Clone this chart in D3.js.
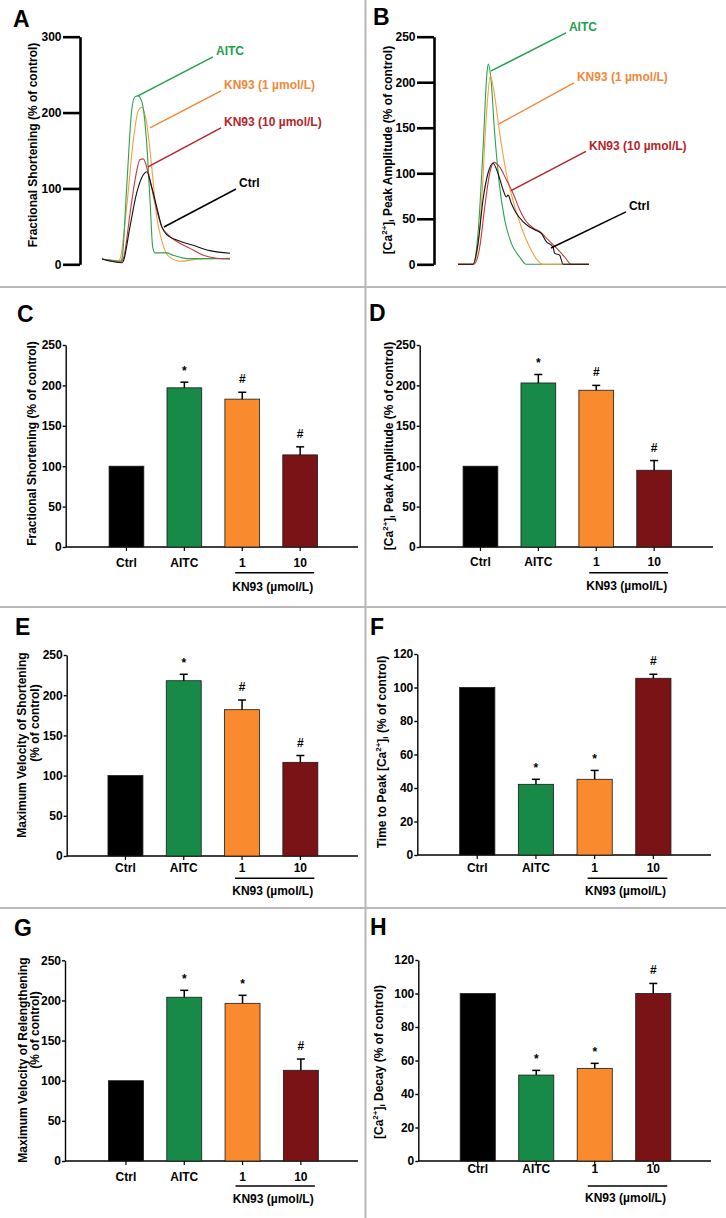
<!DOCTYPE html>
<html><head><meta charset="utf-8">
<script src="https://cdn.jsdelivr.net/npm/d3@7"></script>
<style>body{margin:0;background:#fff;}</style>
</head><body>
<script>
// ---------------- DATA ----------------
const categories = ["Ctrl", "AITC", "1", "10"];
const groupLabel = "KN93 (µmol/L)";
const seriesNames = ["Ctrl", "AITC", "KN93 (1 µmol/L)", "KN93 (10 µmol/L)"];

// Panel A: fractional shortening traces [time (a.u. 0-100), % of control]
const traceA_Ctrl = [[0,7],[15.6,2],[16.6,4],[21.9,50],[27.1,94],[32.3,118],[34.9,122],[38.8,102],[42.7,76],[46.6,50],[50.5,39],[58.4,32],[71.3,25],[84.4,18],[100,14.5]];
const traceA_AITC = [[0,7],[10.2,5],[14.1,4],[15.6,7],[19.3,102],[23.2,203],[25.8,221],[28.1,222],[31.0,215],[34.9,160],[37.5,85],[39.6,23],[41.4,15],[50.5,15],[55.5,12],[66.2,7.5],[100,7.5]];
const traceA_KN1 = [[0,7],[12.5,4],[14.1,7],[19.3,76],[24.5,164],[28.4,203],[31.0,207],[34.9,186],[38.8,129],[42.7,63],[46.6,32],[51.8,11],[60.9,4],[76.6,7],[100,8]];
const traceA_KN10 = [[0,7],[14.1,3],[16.6,7],[21.9,67],[25.8,111],[29.7,138],[32.3,139],[36.2,120],[41.4,81],[46.6,50],[51.5,39],[58.4,30],[68.8,21],[79.1,12],[89.6,8],[100,7]];
const ticksA = [0, 100, 200, 300];
// leader-line annotations: [time, value] from → to
const notesA = [
  {name: "AITC", from: [28.1, 222], to: [86.7, 273.5]},
  {name: "KN93 (1 µmol/L)", from: [37.5, 179.8], to: [93, 228.6]},
  {name: "KN93 (10 µmol/L)", from: [35.9, 128.4], to: [93, 179.8]},
  {name: "Ctrl", from: [48.4, 49.2], to: [104.7, 99.3]}
];

// Panel B: [Ca2+]i transient traces
const traceB_Ctrl = [[0,0],[11.5,0],[15.3,23],[19.1,71],[22.9,100],[26.7,111],[30.5,100],[34.4,82],[36.9,74],[38.2,76],[40.7,67],[44.5,56],[49.6,47],[54.7,41],[58.5,38],[63.6,34],[67.4,25],[72.5,19],[73.8,12],[77.6,10],[80.2,0],[100,0]];
const traceB_AITC = [[0,0],[11.5,0],[15.3,34],[19.1,126],[22.1,210],[23.1,220],[25.0,206],[28.0,144],[31.8,85],[35.6,49],[40.7,23],[47.1,8],[52.1,0],[100,0]];
const traceB_KN1 = [[0,0],[11.5,0],[14.0,9],[17.8,63],[21.6,162],[24.7,207],[27.3,191],[31.8,144],[36.9,100],[42.0,70],[48.3,41],[54.7,19],[59.8,6],[64.9,0],[100,0]];
const traceB_KN10 = [[0,0],[12.2,0],[16.6,19],[20.4,63],[24.2,100],[27.3,112],[31.8,107],[36.9,93],[42.0,78],[47.1,60],[52.1,47],[57.3,40],[62.4,36],[68.7,27],[75.0,18],[81.5,8],[86.5,0],[100,0]];
const ticksB = [0, 50, 100, 150, 200, 250];
const notesB = [
  {name: "AITC", from: [25.2, 212.4], to: [82.4, 254.2]},
  {name: "KN93 (1 µmol/L)", from: [31.3, 154.2], to: [88.5, 199.2]},
  {name: "KN93 (10 µmol/L)", from: [40.5, 81], to: [97.7, 124]},
  {name: "Ctrl", from: [71.0, 17.9], to: [128.2, 57.6]}
];

// Bar panels (mean, upper SEM, significance mark)
const valuesC = [100, 197, 183, 114];  const errorsC = [0, 7, 8.5, 10];  const marksC = ["", "*", "#", "#"];
const valuesD = [100, 203, 194, 95];   const errorsD = [0, 10.5, 6, 12]; const marksD = ["", "*", "#", "#"];
const valuesE = [100, 218, 182, 116.5];const errorsE = [0, 8, 12, 8.5];  const marksE = ["", "*", "#", "#"];
const valuesF = [100, 42.2, 45.2, 105.5]; const errorsF = [0, 3, 5.3, 2.4]; const marksF = ["", "*", "*", "#"];
const valuesG = [100, 204, 196.4, 113]; const errorsG = [0, 8.6, 10, 14]; const marksG = ["", "*", "*", "#"];
const valuesH = [100, 51.3, 55.3, 100]; const errorsH = [0, 2.8, 3, 6];  const marksH = ["", "*", "*", "#"];
const ticks250 = [0, 50, 100, 150, 200, 250];
const ticks120 = [0, 20, 40, 60, 80, 100, 120];

// ---------------- STYLE / LAYOUT ----------------
const W = 726, H = 1218;
const FONT = 'Arial, "Liberation Sans", Helvetica, sans-serif';
const traceColor = {"Ctrl": "#111111", "AITC": "#2ba24c", "KN93 (1 µmol/L)": "#f2a041", "KN93 (10 µmol/L)": "#c3393c"};
const noteColor = {"Ctrl": "#000000", "AITC": "#22a04c", "KN93 (1 µmol/L)": "#f0883a", "KN93 (10 µmol/L)": "#b3262b"};
const barColor = {"Ctrl": "#000000", "AITC": "#188a47", "1": "#f98a2d", "10": "#7a1315"};

const svg = d3.select("body").append("svg").attr("width", W).attr("height", H)
  .style("font-family", FONT).style("font-weight", "bold");

// panel dividers
svg.append("line").attr("x1", 365.5).attr("x2", 365.5).attr("y1", 0).attr("y2", H)
  .attr("stroke", "#b8b8b8").attr("stroke-width", 2);
[287, 607, 908].forEach(yy => svg.append("line").attr("x1", 0).attr("x2", W)
  .attr("y1", yy).attr("y2", yy).attr("stroke", "#b8b8b8").attr("stroke-width", 2));

// panel letters
[["A",13,27],["B",373,25],["C",17,322],["D",369,321],["E",15,635],["F",370,635],["G",14,936],["H",370,935]]
  .forEach(([t,x,y]) => svg.append("text").attr("x", x).attr("y", y).attr("font-size", 23)
    .attr("font-weight", "bold").attr("fill", "#000").text(t));

function richTitle(sel, segs) {
  segs.forEach(s => {
    const ts = sel.append("tspan").text(s.t);
    if (s.sup) ts.attr("font-size", 8).attr("dy", -4);
    else if (s.sub) ts.attr("font-size", 8).attr("dy", 3);
    else if (s.back) ts.attr("dy", s.back);
  });
}
function yTitle(x, y, segs) {
  const t = svg.append("text").attr("transform", `translate(${x},${y}) rotate(-90)`)
    .attr("text-anchor", "middle").attr("dominant-baseline", "central")
    .attr("font-size", 12).attr("font-weight", "bold").attr("fill", "#000");
  richTitle(t, segs);
}
const caSegs = (rest) => [{t: "[Ca"}, {t: "2+", sup: true}, {t: "]", back: 4}, {t: "i", sub: true}, {t: rest, back: -3}];

function styleAxis(g, sw) {
  g.attr("font-family", FONT).attr("font-size", 12);
  g.select(".domain").attr("stroke", "#000").attr("stroke-width", sw);
  g.selectAll(".tick line").attr("stroke", "#000").attr("stroke-width", sw);
  g.selectAll(".tick text").attr("fill", "#000").attr("font-weight", "bold");
}

// ---------- trace panels ----------
function tracePanel(cfg) {
  const y = d3.scaleLinear().domain([0, cfg.max]).range([cfg.y0, cfg.yTop]);
  const x = d3.scaleLinear().domain([0, 100]).range([cfg.x0, cfg.x1]);
  const ax = svg.append("g").attr("transform", `translate(${cfg.axisX},0)`)
    .call(d3.axisLeft(y).tickValues(cfg.ticks).tickSize(17).tickPadding(1.5).tickSizeOuter(0));
  styleAxis(ax, 2.6);
  const line = d3.line().x(d => x(d[0])).y(d => y(d[1])).curve(d3.curveMonotoneX);
  cfg.series.forEach(([name, data]) => {
    svg.append("path").attr("d", line(data)).attr("fill", "none")
      .attr("stroke", traceColor[name]).attr("stroke-width", 1.1);
  });
  cfg.notes.forEach(n => {
    svg.append("line").attr("x1", x(n.from[0])).attr("y1", y(n.from[1]))
      .attr("x2", x(n.to[0])).attr("y2", y(n.to[1]))
      .attr("stroke", noteColor[n.name]).attr("stroke-width", 1.5);
    svg.append("text").attr("x", x(n.to[0]) + 3).attr("y", y(n.to[1]) - 1.5)
      .attr("font-size", 12).attr("font-weight", "bold").attr("fill", noteColor[n.name]).text(n.name);
  });
}

tracePanel({axisX: 80, y0: 264.3, yTop: 36.7, max: 300, ticks: ticksA, x0: 102, x1: 230,
  series: [["KN93 (1 µmol/L)", traceA_KN1], ["AITC", traceA_AITC], ["KN93 (10 µmol/L)", traceA_KN10], ["Ctrl", traceA_Ctrl]],
  notes: notesA});
yTitle(33, 145, [{t: "Fractional Shortening (% of control)"}]);

tracePanel({axisX: 434, y0: 264.3, yTop: 36.7, max: 250, ticks: ticksB, x0: 458, x1: 589,
  series: [["AITC", traceB_AITC], ["KN93 (1 µmol/L)", traceB_KN1], ["KN93 (10 µmol/L)", traceB_KN10], ["Ctrl", traceB_Ctrl]],
  notes: notesB});
yTitle(387.5, 150, caSegs(" Peak Amplitude (% of control)"));

// ---------- bar panels ----------
function barPanel(cfg) {
  const y = d3.scaleLinear().domain([0, cfg.max]).range([cfg.y0, cfg.yTop]);
  const x = d3.scaleBand().domain(categories).range(cfg.band).paddingInner(0.4).paddingOuter(0.2);
  const ax = svg.append("g").attr("transform", `translate(${cfg.axisX},0)`)
    .call(d3.axisLeft(y).tickValues(cfg.ticks).tickSize(3).tickPadding(1).tickSizeOuter(0));
  styleAxis(ax, 1.4);
  // x axis line
  svg.append("line").attr("x1", cfg.axisX).attr("x2", cfg.xEnd).attr("y1", cfg.y0).attr("y2", cfg.y0)
    .attr("stroke", "#000").attr("stroke-width", 1.4);
  const cx = c => x(c) + x.bandwidth() / 2;
  categories.forEach((c, i) => {
    const v = cfg.values[i], e = cfg.errors[i];
    // x tick
    svg.append("line").attr("x1", cx(c)).attr("x2", cx(c)).attr("y1", cfg.y0).attr("y2", cfg.y0 + 4)
      .attr("stroke", "#000").attr("stroke-width", 1.2);
    svg.append("rect").attr("x", x(c)).attr("y", y(v)).attr("width", x.bandwidth())
      .attr("height", y(0) - y(v)).attr("fill", barColor[c])
      .attr("stroke", "#1a1a1a").attr("stroke-width", 0.8);
    if (e > 0) {
      svg.append("line").attr("x1", cx(c)).attr("x2", cx(c)).attr("y1", y(v)).attr("y2", y(v + e))
        .attr("stroke", "#000").attr("stroke-width", 1.5);
      svg.append("line").attr("x1", cx(c) - 4).attr("x2", cx(c) + 4).attr("y1", y(v + e)).attr("y2", y(v + e))
        .attr("stroke", "#000").attr("stroke-width", 1.5);
    }
    if (cfg.marks[i]) {
      svg.append("text").attr("x", cx(c)).attr("y", y(v + e) - (cfg.marks[i] === "#" ? 9 : 7))
        .attr("text-anchor", "middle").attr("font-size", 12).attr("font-weight", "bold")
        .attr("fill", "#000").text(cfg.marks[i]);
    }
    svg.append("text").attr("x", cx(c)).attr("y", cfg.y0 + cfg.labelDy + 4)
      .attr("text-anchor", "middle").attr("font-size", 12).attr("font-weight", "bold")
      .attr("fill", "#000").text(c);
  });
  const u1 = cx("1") - 7, u2 = cx("10") + 14;
  svg.append("line").attr("x1", u1).attr("x2", u2).attr("y1", cfg.y0 + cfg.ulDy).attr("y2", cfg.y0 + cfg.ulDy)
    .attr("stroke", "#000").attr("stroke-width", 1.6);
  svg.append("text").attr("x", (u1 + u2) / 2 - 2).attr("y", cfg.y0 + cfg.groupDy + 4)
    .attr("text-anchor", "middle").attr("font-size", 12).attr("font-weight", "bold")
    .attr("fill", "#000").text(groupLabel);
}

barPanel({axisX: 65.7, xEnd: 358, y0: 547, yTop: 345, max: 250, ticks: ticks250, band: [97.5, 329.1],
  values: valuesC, errors: errorsC, marks: marksC, labelDy: 16.3, ulDy: 25.7, groupDy: 39.7});
yTitle(31.7, 443.5, [{t: "Fractional Shortening (% of control)"}]);

barPanel({axisX: 419.7, xEnd: 713, y0: 547, yTop: 345, max: 250, ticks: ticks250, band: [451.5, 683.1],
  values: valuesD, errors: errorsD, marks: marksD, labelDy: 15, ulDy: 25.7, groupDy: 39});
yTitle(389, 446, caSegs(" Peak Amplitude (% of control)"));

barPanel({axisX: 66.7, xEnd: 358, y0: 856, yTop: 655, max: 250, ticks: ticks250, band: [96.3, 329.5],
  values: valuesE, errors: errorsE, marks: marksE, labelDy: 12.3, ulDy: 22.3, groupDy: 34.7});
yTitle(21.7, 745, [{t: "Maximum Velocity of Shortening"}]);
yTitle(35, 723, [{t: "(% of control)"}]);

barPanel({axisX: 417.3, xEnd: 711, y0: 855, yTop: 654, max: 120, ticks: ticks120, band: [447.9, 682.7],
  values: valuesF, errors: errorsF, marks: marksF, labelDy: 13.3, ulDy: 23.3, groupDy: 36});
yTitle(382.3, 752, [{t: "Time to Peak "}].concat(caSegs(" (% of control)")));

barPanel({axisX: 65, xEnd: 358, y0: 1161, yTop: 960.3, max: 250, ticks: ticks250, band: [96.8, 330],
  values: valuesG, errors: errorsG, marks: marksG, labelDy: 15.7, ulDy: 25, groupDy: 38});
yTitle(22.7, 1060, [{t: "Maximum Velocity of Relengthening"}]);
yTitle(35, 1030, [{t: "(% of control)"}]);

barPanel({axisX: 418.3, xEnd: 711, y0: 1161, yTop: 960, max: 120, ticks: ticks120, band: [448.5, 682.5],
  values: valuesH, errors: errorsH, marks: marksH, labelDy: 7.7, ulDy: 25, groupDy: 37.3});
yTitle(379, 1062, caSegs(" Decay (% of control)"));
</script>
</body></html>
